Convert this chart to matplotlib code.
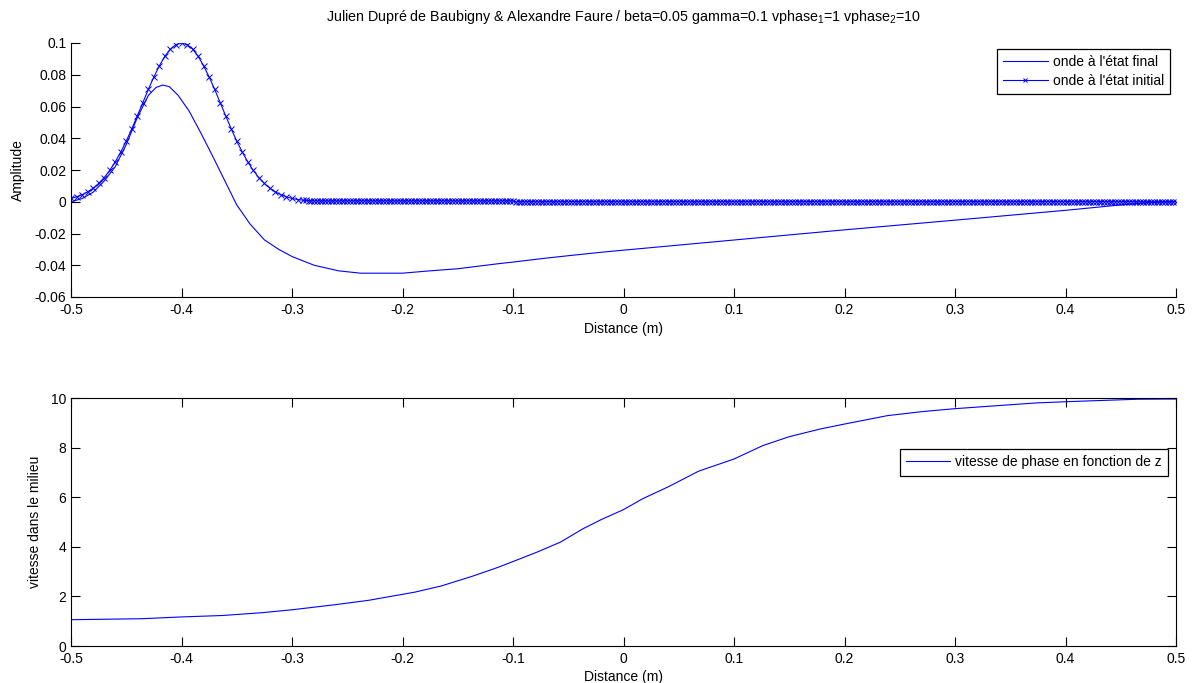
import numpy as np
import matplotlib
matplotlib.use("Agg")
import matplotlib.pyplot as plt

plt.rcParams['font.family'] = ['Liberation Sans', 'DejaVu Sans']
plt.rcParams['mathtext.fontset'] = 'custom'
plt.rcParams['mathtext.rm'] = 'Liberation Sans'
plt.rcParams['mathtext.it'] = 'Liberation Sans'
plt.rcParams['axes.unicode_minus'] = False
plt.rcParams['font.size'] = 10

# onde initiale : pas 0.005 jusqu'a -0.29 puis pas 0.0025
x_init = np.concatenate([np.linspace(-0.5, -0.29, 43), np.linspace(-0.2875, 0.5, 316)])
amp_peak = [0.0021, 0.0031, 0.0044, 0.0062, 0.0085, 0.0115, 0.0152, 0.0197, 0.0251, 0.0313,
            0.0382, 0.0459, 0.0541, 0.0624, 0.0708, 0.0786, 0.0857, 0.0917, 0.0962, 0.0990,
            0.1000,
            0.0990, 0.0962, 0.0917, 0.0857, 0.0786, 0.0708, 0.0624, 0.0541, 0.0459, 0.0382,
            0.0313, 0.0251, 0.0197, 0.0152, 0.0115, 0.0085, 0.0062, 0.0044, 0.0031, 0.0021,
            0.0014, 0.0010]
amp_flat1 = [0.0008, 0.0007, 0.0006] + [0.0005] * 73   # -0.2875 .. -0.1
amp_flat2 = [0.0] * 240                                # -0.0975 .. 0.5
amp_init = amp_peak + amp_flat1 + amp_flat2

# onde finale
x_final = [-0.500, -0.490, -0.480, -0.470, -0.460, -0.450, -0.440, -0.430, -0.423, -0.417,
           -0.411, -0.403, -0.393, -0.383, -0.372, -0.361, -0.350, -0.338, -0.325, -0.312,
           -0.300, -0.280, -0.258, -0.238, -0.200, -0.180, -0.150, -0.113, -0.100, -0.070,
           -0.050, -0.020, 0.000, 0.100, 0.200, 0.300, 0.400, 0.450, 0.475, 0.500]
amp_final = [0.0000, 0.0020, 0.0060, 0.0130, 0.0220, 0.0360, 0.0530, 0.0670, 0.0720, 0.0735,
             0.0725, 0.0670, 0.0570, 0.0440, 0.0290, 0.0135, -0.0020, -0.0140, -0.0240, -0.0300,
             -0.0345, -0.0400, -0.0435, -0.0450, -0.0450, -0.0438, -0.0422, -0.0390, -0.0380, -0.0355,
             -0.0340, -0.0318, -0.0305, -0.0241, -0.0177, -0.0116, -0.0054, -0.0020, -0.0005, 0.0000]

# vitesse de phase
x_v = [-0.500, -0.436, -0.401, -0.363, -0.328, -0.300, -0.262, -0.231, -0.189, -0.165,
       -0.137, -0.113, -0.078, -0.057, -0.037, -0.020, 0.000, 0.017, 0.041, 0.068,
       0.100, 0.126, 0.150, 0.178, 0.200, 0.239, 0.270, 0.300, 0.338, 0.373,
       0.400, 0.465, 0.500]
v = [1.06, 1.10, 1.17, 1.23, 1.34, 1.46, 1.66, 1.84, 2.17, 2.42,
     2.81, 3.18, 3.79, 4.19, 4.72, 5.10, 5.50, 5.93, 6.43, 7.05,
     7.54, 8.08, 8.44, 8.75, 8.95, 9.29, 9.45, 9.57, 9.69, 9.80,
     9.85, 9.95, 9.96]

xticks = [-0.5, -0.4, -0.3, -0.2, -0.1, 0, 0.1, 0.2, 0.3, 0.4, 0.5]
xlabels = ['-0.5', '-0.4', '-0.3', '-0.2', '-0.1', '0', '0.1', '0.2', '0.3', '0.4', '0.5']
yticks1 = [-0.06, -0.04, -0.02, 0, 0.02, 0.04, 0.06, 0.08, 0.1]
ylabels1 = ['-0.06', '-0.04', '-0.02', '0', '0.02', '0.04', '0.06', '0.08', '0.1']
yticks2 = [0, 2, 4, 6, 8, 10]

W, H = 1192, 683
fig = plt.figure(figsize=(W / 100, H / 100), dpi=100)
ax1 = fig.add_axes([71 / W, 1 - 297 / H, 1105 / W, 254 / H])
ax2 = fig.add_axes([71 / W, 1 - 646 / H, 1105 / W, 248 / H])

blue = '#0000ff'
ax1.plot(x_final, amp_final, color=blue, lw=0.8, label="onde à l'état final")
ax1.plot(x_init, amp_init, color=blue, lw=0.8, marker='x', ms=4.5, mew=0.7,
         label="onde à l'état initial")
ax1.set_xlim(-0.5, 0.5)
ax1.set_ylim(-0.06, 0.1)
ax1.set_xticks(xticks, xlabels)
ax1.set_yticks(yticks1, ylabels1)
ax1.spines['top'].set_visible(False)
ax1.spines['right'].set_visible(False)
ax1.tick_params(direction='in', length=6.5, width=0.8, pad=3.5)
ax1.tick_params(axis='x', pad=4.5)
ax1.set_xlabel('Distance (m)')
ax1.set_ylabel('Amplitude')
ax1.xaxis.set_label_coords(0.5, -0.10)
ax1.yaxis.set_label_coords(-0.042, 0.5)
ax1.set_title(r'Julien Dupré de Baubigny & Alexandre Faure / beta=0.05 gamma=0.1 '
              r'vphase$_{1}$=1 vphase$_{2}$=10', fontsize=10.3, pad=16)
leg1 = ax1.legend(loc='upper right', bbox_to_anchor=(0.9946, 0.976), numpoints=1,
                  handlelength=3.2, fancybox=False, framealpha=1, edgecolor='black',
                  borderaxespad=0, borderpad=0.45, labelspacing=0.3, handletextpad=0.35,
                  handleheight=0.7)
leg1.get_frame().set_linewidth(0.9)
for h in leg1.legend_handles:
    h.set_markersize(3.5)

ax2.plot(x_v, v, color=blue, lw=0.8, label='vitesse de phase en fonction de z')
ax2.set_xlim(-0.5, 0.5)
ax2.set_ylim(0, 10)
ax2.set_xticks(xticks, xlabels)
ax2.set_yticks(yticks2)
ax2.tick_params(direction='in', length=6.5, width=0.8, pad=3.5, top=True, right=True)
ax2.tick_params(axis='x', pad=4.5)
ax2.set_xlabel('Distance (m)')
ax2.set_ylabel('vitesse dans le milieu')
ax2.xaxis.set_label_coords(0.5, -0.097)
ax2.yaxis.set_label_coords(-0.026, 0.5)
leg2 = ax2.legend(loc='upper right', bbox_to_anchor=(0.9928, 0.794),
                  handlelength=3.2, fancybox=False, framealpha=1, edgecolor='black',
                  borderaxespad=0, borderpad=0.45, handletextpad=0.35)
leg2.get_frame().set_linewidth(0.9)

for ax in (ax1, ax2):
    for s in ax.spines.values():
        s.set_linewidth(0.8)

fig.savefig('out.png', dpi=100)
